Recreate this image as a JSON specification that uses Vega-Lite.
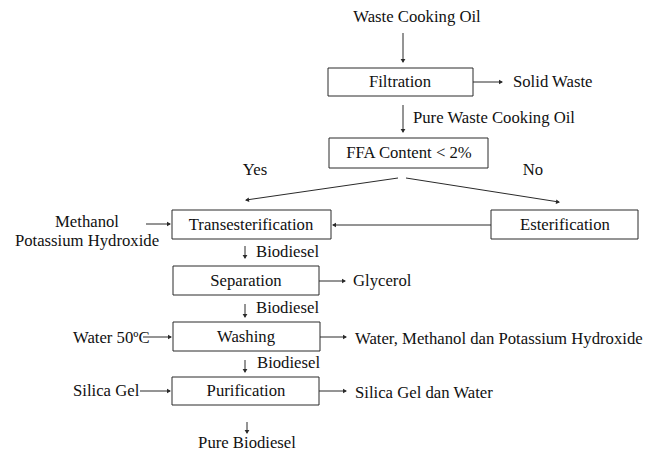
{
  "$schema": "https://vega.github.io/schema/vega-lite/v6.json",
  "width": 656,
  "height": 454,
  "padding": 0,
  "autosize": {"type": "fit", "contains": "padding"},
  "background": "white",
  "config": {"view": {"stroke": null}, "font": "Liberation Serif"},
  "datasets": {
    "boxes": [
      {"name": "Filtration", "x1": 328, "x2": 473, "y1": 68, "y2": 96},
      {"name": "FFA", "x1": 329, "x2": 488, "y1": 138, "y2": 168},
      {"name": "Transesterification", "x1": 172, "x2": 331, "y1": 210, "y2": 239},
      {"name": "Esterification", "x1": 491, "x2": 638, "y1": 210, "y2": 239},
      {"name": "Separation", "x1": 173, "x2": 319, "y1": 266, "y2": 295},
      {"name": "Washing", "x1": 173, "x2": 320, "y1": 322, "y2": 351},
      {"name": "Purification", "x1": 172, "x2": 319, "y1": 377, "y2": 405}
    ],
    "centerLabels": [
      {"label": "Waste Cooking Oil", "x": 417, "y": 17},
      {"label": "Filtration", "x": 400, "y": 82},
      {"label": "FFA Content < 2%", "x": 409, "y": 153},
      {"label": "Yes", "x": 255, "y": 170},
      {"label": "No", "x": 533, "y": 170},
      {"label": "Methanol", "x": 87, "y": 222},
      {"label": "Potassium Hydroxide", "x": 87, "y": 241},
      {"label": "Transesterification", "x": 251, "y": 225},
      {"label": "Esterification", "x": 565, "y": 225},
      {"label": "Separation", "x": 246, "y": 281},
      {"label": "Washing", "x": 246, "y": 337},
      {"label": "Purification", "x": 246, "y": 391},
      {"label": "Pure Biodiesel", "x": 247, "y": 443}
    ],
    "leftLabels": [
      {"label": "Solid Waste", "x": 513, "y": 82},
      {"label": "Pure Waste Cooking Oil", "x": 413, "y": 118},
      {"label": "Biodiesel", "x": 256, "y": 252},
      {"label": "Biodiesel", "x": 256, "y": 308},
      {"label": "Biodiesel", "x": 257, "y": 363},
      {"label": "Glycerol", "x": 353, "y": 281},
      {"label": "Water, Methanol dan Potassium Hydroxide", "x": 355, "y": 339},
      {"label": "Silica Gel dan Water", "x": 355, "y": 393},
      {"label": "Water 50ºC", "x": 73, "y": 338},
      {"label": "Silica Gel", "x": 73, "y": 391}
    ],
    "lines": [
      {"x1": 403, "y1": 33, "x2": 403, "y2": 62},
      {"x1": 473, "y1": 82, "x2": 502, "y2": 82},
      {"x1": 403, "y1": 105, "x2": 403, "y2": 132},
      {"x1": 398, "y1": 178, "x2": 246, "y2": 200},
      {"x1": 406, "y1": 178, "x2": 559, "y2": 202},
      {"x1": 146, "y1": 224, "x2": 170, "y2": 224},
      {"x1": 491, "y1": 225, "x2": 333, "y2": 225},
      {"x1": 245, "y1": 246, "x2": 245, "y2": 258},
      {"x1": 319, "y1": 281, "x2": 345, "y2": 281},
      {"x1": 245, "y1": 304, "x2": 245, "y2": 317},
      {"x1": 143, "y1": 337, "x2": 171, "y2": 337},
      {"x1": 320, "y1": 337, "x2": 346, "y2": 337},
      {"x1": 245, "y1": 360, "x2": 245, "y2": 372},
      {"x1": 140, "y1": 391, "x2": 170, "y2": 391},
      {"x1": 319, "y1": 391, "x2": 346, "y2": 391},
      {"x1": 247, "y1": 422, "x2": 247, "y2": 433}
    ],
    "heads": [
      {"x": 403, "y": 61, "angle": 180},
      {"x": 501, "y": 82, "angle": 90},
      {"x": 403, "y": 131, "angle": 180},
      {"x": 247, "y": 200, "angle": 262},
      {"x": 558, "y": 202, "angle": 98},
      {"x": 169, "y": 224, "angle": 90},
      {"x": 334, "y": 225, "angle": 270},
      {"x": 245, "y": 257, "angle": 180},
      {"x": 344, "y": 281, "angle": 90},
      {"x": 245, "y": 316, "angle": 180},
      {"x": 170, "y": 337, "angle": 90},
      {"x": 345, "y": 337, "angle": 90},
      {"x": 245, "y": 371, "angle": 180},
      {"x": 169, "y": 391, "angle": 90},
      {"x": 345, "y": 391, "angle": 90},
      {"x": 247, "y": 432, "angle": 180}
    ]
  },
  "layer": [
    {
      "data": {"name": "lines"},
      "mark": {"type": "rule", "color": "#2a2a2a", "strokeWidth": 1},
      "encoding": {
        "x": {"field": "x1", "type": "quantitative", "scale": {"domain": [0, 656], "nice": false, "zero": false}, "axis": null},
        "y": {"field": "y1", "type": "quantitative", "scale": {"domain": [0, 454], "nice": false, "zero": false, "reverse": true}, "axis": null},
        "x2": {"field": "x2"},
        "y2": {"field": "y2"}
      }
    },
    {
      "data": {"name": "boxes"},
      "mark": {"type": "rect", "fill": "white", "stroke": "#2a2a2a", "strokeWidth": 1},
      "encoding": {
        "x": {"field": "x1", "type": "quantitative", "scale": {"domain": [0, 656], "nice": false, "zero": false}, "axis": null},
        "x2": {"field": "x2"},
        "y": {"field": "y1", "type": "quantitative", "scale": {"domain": [0, 454], "nice": false, "zero": false, "reverse": true}, "axis": null},
        "y2": {"field": "y2"}
      }
    },
    {
      "data": {"name": "heads"},
      "mark": {"type": "point", "shape": "triangle-up", "filled": true, "color": "#2a2a2a", "size": 22, "opacity": 1},
      "encoding": {
        "x": {"field": "x", "type": "quantitative", "scale": {"domain": [0, 656], "nice": false, "zero": false}, "axis": null},
        "y": {"field": "y", "type": "quantitative", "scale": {"domain": [0, 454], "nice": false, "zero": false, "reverse": true}, "axis": null},
        "angle": {"field": "angle", "type": "quantitative", "scale": null}
      }
    },
    {
      "data": {"name": "centerLabels"},
      "mark": {"type": "text", "align": "center", "baseline": "middle", "font": "Liberation Serif", "fontSize": 16.7, "color": "#111"},
      "encoding": {
        "x": {"field": "x", "type": "quantitative", "scale": {"domain": [0, 656], "nice": false, "zero": false}, "axis": null},
        "y": {"field": "y", "type": "quantitative", "scale": {"domain": [0, 454], "nice": false, "zero": false, "reverse": true}, "axis": null},
        "text": {"field": "label"}
      }
    },
    {
      "data": {"name": "leftLabels"},
      "mark": {"type": "text", "align": "left", "baseline": "middle", "font": "Liberation Serif", "fontSize": 16.7, "color": "#111"},
      "encoding": {
        "x": {"field": "x", "type": "quantitative", "scale": {"domain": [0, 656], "nice": false, "zero": false}, "axis": null},
        "y": {"field": "y", "type": "quantitative", "scale": {"domain": [0, 454], "nice": false, "zero": false, "reverse": true}, "axis": null},
        "text": {"field": "label"}
      }
    }
  ]
}
